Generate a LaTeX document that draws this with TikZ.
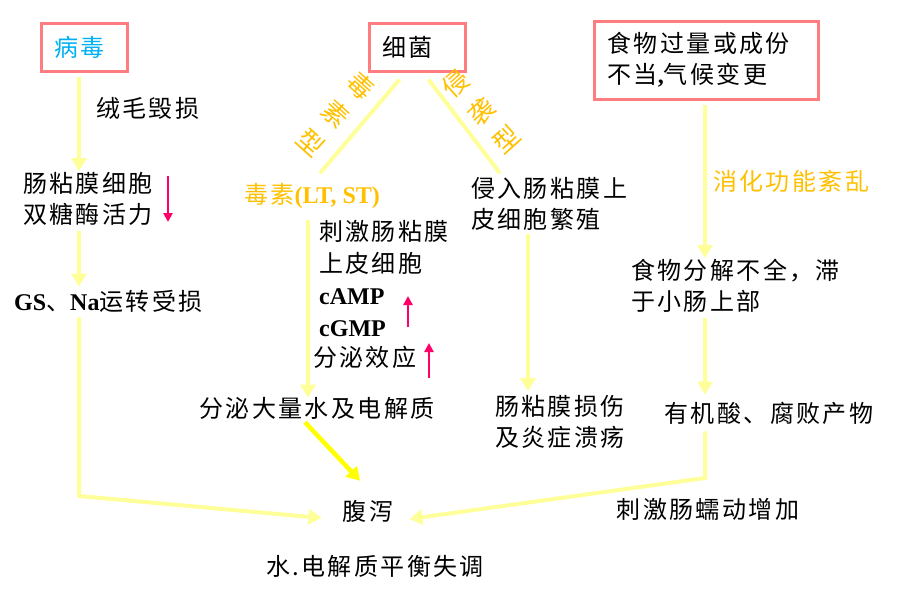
\documentclass[tikz,border=0pt]{standalone}
\usepackage{fontspec}
\setmainfont{Liberation Serif}
\newfontfamily\cjk{Noto Sans CJK SC}[LetterSpace=10]
\usetikzlibrary{positioning,arrows.meta}
\tikzset{>={Triangle[length=13pt,width=15pt]}}

\definecolor{boxpink}{HTML}{FF7C80}
\definecolor{flowyellow}{HTML}{FFFF99}
\definecolor{hotyellow}{HTML}{FFFF00}
\definecolor{labelorange}{HTML}{FFC000}
\definecolor{markred}{HTML}{FF0066}
\definecolor{virusblue}{HTML}{00B0F0}

\tikzset{
  box/.style={draw=boxpink,line width=3pt,inner xsep=13pt,align=left,minimum height=48pt},
  txt/.style={inner sep=1pt,align=left},
  flow/.style={draw=flowyellow,line width=4pt},
  flowarrow/.style={flow,->},
  kick/.style={draw=hotyellow,line width=4.5pt,->},
  updown/.style={draw=markred,line width=2.5pt,-{Triangle[length=9pt,width=9pt]}},
  sidetag/.style={text=labelorange,inner sep=0pt,align=center,font=\cjk\fontsize{26}{38}\selectfont}
}
\newcommand\lat[1]{{\rmfamily\bfseries #1}}

\begin{document}
\begin{tikzpicture}[x=1pt,y=-1pt,font=\cjk\fontsize{24}{31}\selectfont]
\useasboundingbox (0,0) rectangle (905,589);
% causes
\node[box,text width=60pt,anchor=west,text=virusblue] (virus) at (40,47) {病毒};
\node[box,text width=70pt,anchor=west] (bact) at (368,47) {细菌};
\node[box,text width=198pt,anchor=west,minimum height=78pt] (food) at (593,60) {食物过量或成份\\不当\lat{,}气候变更};
% left column
\coordinate (colA) at (79,0);
\node[txt,anchor=west] (villi) at (95,109) {绒毛毁损};
\node[txt,anchor=west] (mucosa) at (22,199) {肠粘膜细胞\\双糖酶活力};
\node[txt,anchor=west] (gs) at (13,301) {\lat{GS}、\lat{Na}运转受损};
% middle
\coordinate (colB) at (308,0);
\coordinate (colD) at (528,0);
\node[sidetag,rotate=-42] (ttype) at (336,114) {毒\\素\\型};
\node[sidetag,rotate=42] (itype) at (481,111) {侵\\袭\\型};
\node[txt,text=labelorange] (toxin) at (312,196) {毒素\lat{(LT, ST)}};
\node[txt,anchor=west] (stim) at (318,279) {刺激肠粘膜\\[1pt]上皮细胞\\[1pt]\lat{cAMP}\\[1pt]\lat{cGMP}};
\node[txt,anchor=west] (effect) at (312,357) {分泌效应};
\node[txt] (secrete) at (317,408) {分泌大量水及电解质};
\node[txt,anchor=west] (invade) at (470,204) {侵入肠粘膜上\\皮细胞繁殖};
\node[txt,anchor=west] (injury) at (494,422) {肠粘膜损伤\\及炎症溃疡};
% right column
\coordinate (colC) at (705,0);
\node[txt,anchor=west,text=labelorange] (dys) at (712,181) {消化功能紊乱};
\node[txt,anchor=west] (undig) at (630,286) {食物分解不全，滞\\于小肠上部};
\node[txt] (acid) at (769,413) {有机酸、腐败产物};
% outcome
\node[txt] (diarrhea) at (368,511) {腹泻};
\node[txt] (peri) at (708,509) {刺激肠蠕动增加};
\node[txt] (imbal) at (375,566) {水.电解质平衡失调};

\coordinate (lcorner) at (79,496);
\coordinate (rcorner) at (705,478);
\draw[flowarrow] ([yshift=-4pt]virus.south -| colA) -- (mucosa.north -| colA);
\draw[flowarrow] ([yshift=-4pt]mucosa.south -| colA) -- ([yshift=2pt]gs.north -| colA);
\draw[flowarrow] ([yshift=-4pt]gs.south -| colA) -- (lcorner) -- ([xshift=-20pt,yshift=-7pt]diarrhea.west);
\draw[flow] ([xshift=-18pt,yshift=-7pt]bact.south) -- ([xshift=8pt,yshift=9pt]toxin.north);
\draw[flow] ([xshift=11pt,yshift=-7pt]bact.south) -- ([xshift=30pt,yshift=3pt]invade.north west);
\draw[flowarrow] ([yshift=-10pt]toxin.south -| colB) -- ([yshift=-2pt]secrete.north -| colB);
\draw[flowarrow] ([yshift=-2pt]invade.south -| colD) -- ([yshift=3pt]injury.north -| colD);
\draw[kick] ([xshift=-12pt,yshift=-2pt]secrete.south) -- ([xshift=-8pt,yshift=18pt]diarrhea.north);
\draw[flowarrow] ([yshift=-4pt]food.south -| colC) -- (undig.north -| colC);
\draw[flowarrow] ([yshift=-4pt]undig.south -| colC) -- ([yshift=6pt]acid.north -| colC);
\draw[flowarrow] ([yshift=-6pt]acid.south -| colC) -- (rcorner) -- ([xshift=15pt,yshift=-8pt]diarrhea.east);
% up and down marks
\coordinate (r1a) at (168,176);
\coordinate (r1b) at (168,222);
\coordinate (r2a) at (408,327);
\coordinate (r2b) at (408,296);
\coordinate (r3a) at (429,378);
\coordinate (r3b) at (429,343);
\draw[updown] (r1a) -- (r1b);
\draw[updown] (r2a) -- (r2b);
\draw[updown] (r3a) -- (r3b);
\end{tikzpicture}
\end{document}
